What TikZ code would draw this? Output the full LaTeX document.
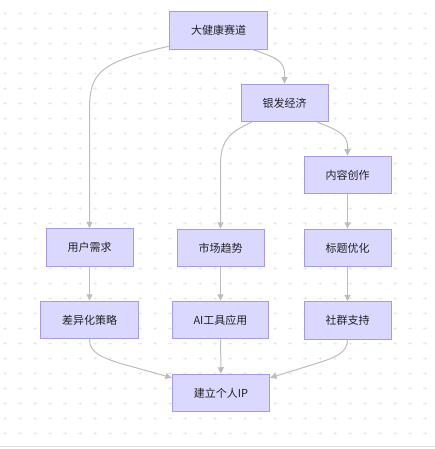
\documentclass[tikz,border=0pt]{standalone}
\usepackage{fontspec}
\usepackage{tikz}
\usetikzlibrary{arrows.meta,calc}
\newfontfamily\cjk{Noto Sans CJK SC}
\definecolor{INK}{HTML}{222222}
\definecolor{BOXF}{HTML}{DAD8FF}
\definecolor{BOXD}{HTML}{A39BF0}
\definecolor{EDGE}{HTML}{BDBDBD}
\definecolor{DOT}{HTML}{EBEBEB}
\definecolor{RULE}{HTML}{E0E0E0}

\begin{document}
\begin{tikzpicture}[x=1pt,y=-1pt]
\tikzset{bx/.style={draw=BOXD,fill=BOXF,line width=1pt,text=INK,inner xsep=21.5pt,inner ysep=0pt,
 minimum height=37.5pt,font=\cjk\fontsize{11}{13}\selectfont},
 ed/.style={EDGE,line width=1pt,-{Triangle[length=6.5pt,width=6pt]}},
 plus/.style={DOT,line width=0.9pt}}
\useasboundingbox[fill=white] (0,0) rectangle (435,449);
\foreach \i in {0,...,28}{\foreach \j in {0,...,28}{
 \draw[plus] (5+15*\i-1.6,13.3+15*\j)--(5+15*\i+1.6,13.3+15*\j) (5+15*\i,13.3+15*\j-1.6)--(5+15*\i,13.3+15*\j+1.6);}}
\draw[RULE,line width=1pt] (0,446)--(435,446);
\node[bx] (hd) at (218.5,30.5) {大健康赛道};
\node[bx] (yf) at (284.5,103) {银发经济};
\node[bx] (nr) at (347.5,175) {内容创作};
\node[bx] (bt) at (347.5,248) {标题优化};
\node[bx] (sq) at (347.5,320.5) {社群支持};
\node[bx] (yh) at (89.5,247.5) {用户需求};
\node[bx] (cy) at (89.5,320) {差异化策略};
\node[bx] (sc) at (220.5,248) {市场趋势};
\node[bx] (ai) at (220.5,320) {AI工具应用};
\node[bx] (ip) at (221,393) {建立个人IP};
\draw[ed] ([xshift=2pt,yshift=4pt]hd.south west) .. controls (100,62) and (89.5,72) .. (89.5,110) -- (yh.north);
\draw[ed] ([xshift=-15pt]hd.south east) .. controls (278,58) and (284.5,62) .. (284.5,74) -- (yf.north);
\draw[ed] ([xshift=11pt]yf.south west) .. controls (230,132) and (220.5,140) .. (220.5,165) -- (sc.north);
\draw[ed] ([xshift=-11pt]yf.south east) .. controls (338,130) and (347.5,135) .. (347.5,146) -- (nr.north);
\draw[ed] (nr) -- (bt);
\draw[ed] (bt) -- (sq);
\draw[ed] (yh) -- (cy);
\draw[ed] (sc) -- (ai);
\draw[ed] (ai) -- (ip);
\draw[ed] (cy.south) .. controls (89.5,352) and (100,357) .. (120,363.3) -- ([yshift=-4pt]ip.north west);
\draw[ed] (sq.south) .. controls (347.5,352) and (337,357) .. (317,363.3) -- ([yshift=-4pt]ip.north east);
\end{tikzpicture}
\end{document}
